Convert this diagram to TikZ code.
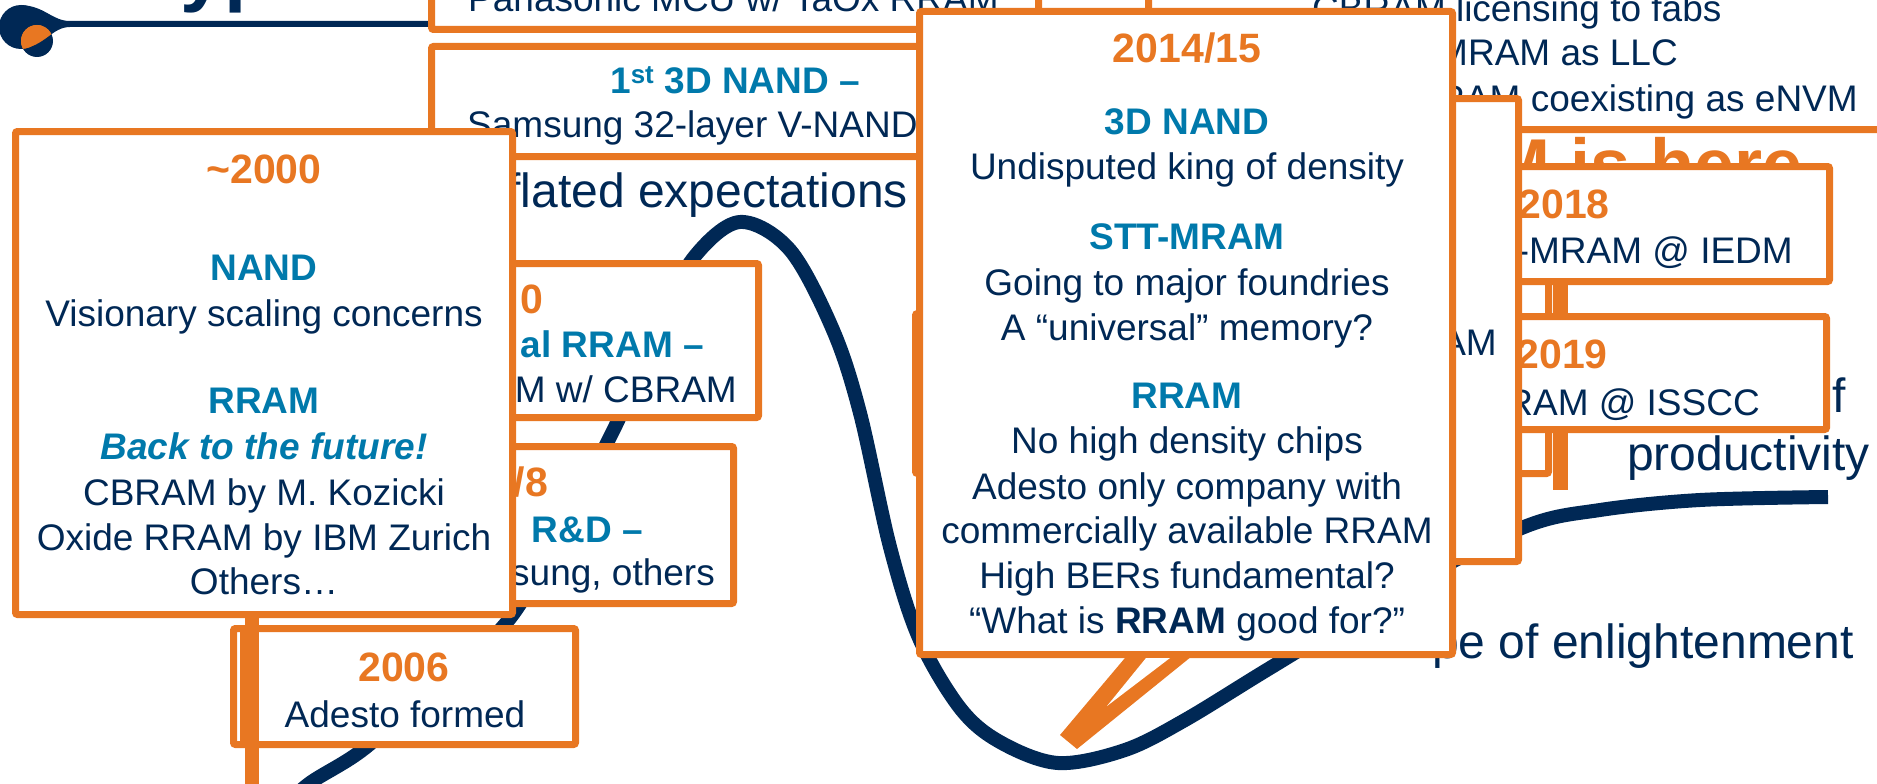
\documentclass[tikz,border=0pt]{standalone}
\usepackage{fontspec}
\setmainfont{Liberation Sans}
\definecolor{orng}{RGB}{232,119,34}
\definecolor{navy}{RGB}{0,40,85}
\definecolor{hblue}{RGB}{0,121,171}
\begin{document}
\begin{tikzpicture}[x=1pt,y=-1pt,
  box/.style={draw=orng,line width=7pt,fill=white,rounded corners=2pt},
  txt/.style={inner sep=0pt,text=navy,font=\fontsize{37}{44}\selectfont},
  yr/.style={inner sep=0pt,text=orng,font=\fontsize{41}{48}\selectfont\bfseries},
  hd/.style={inner sep=0pt,text=hblue,font=\fontsize{37}{44}\selectfont\bfseries},
  big/.style={inner sep=0pt,text=navy,font=\fontsize{48}{56}\selectfont},
  hype/.style={draw=navy,line width=14pt},
  bar/.style={fill=orng}]
\useasboundingbox (0,0) rectangle (1877,784);
\clip (0,0) rectangle (1877,784);

% background slide labels
\node[big,anchor=base east] (lpeak) at (908,207) {flated expectations};
\node[big,anchor=base east] (lplat1) at (1846,412) {f};
\node[big,anchor=base east] (lplat2) at (1870,470) {productivity};
\node[big,anchor=base east] (lslope) at (1854,658) {pe of enlightenment};
\node[inner sep=0pt,text=orng,font=\fontsize{72}{80}\selectfont\bfseries,anchor=base east] (here) at (1803,189) {M is here};
\node[inner sep=0pt,text=navy,font=\fontsize{80}{90}\selectfont\bfseries,anchor=base west] (title) at (180,-3) {yp};

% logo
\fill[navy] (21,27) circle (22);
\fill[navy] (21,5) .. controls (45,6) and (52,21) .. (70,21) -- (430,21) -- (430,27) -- (70,27) .. controls (52,27) and (45,46) .. (21,49) -- cycle;
\fill[navy] (37,41) circle (16);
\begin{scope}
  \clip (37,41) circle (16);
  \fill[orng] (21,27) circle (22);
  \fill[orng] (21,5) .. controls (45,6) and (52,21) .. (70,21) -- (70,27) .. controls (52,27) and (45,46) .. (21,49) -- cycle;
\end{scope}

% hype curve
\draw[hype] plot[smooth,tension=0.55] coordinates {(280,810) (310,783) (365,748) (440,680) (516,610) (613,431) (660,320) (695,256) (740,222) (790,250) (833,330) (860,413) (890,547) (919,638) (960,708) (1000,742) (1058,763) (1125,750) (1185,720) (1270,668) (1400,590) (1524,527) (1600,510) (1700,500) (1828,497)};

% top boxes
\draw[box] (431.5,-56.5) rectangle (1038.5,29.5);
\node[txt,anchor=base west] (pan) at (468,12) {Panasonic MCU w/ TaOx RRAM};
\draw[box] (1148.5,-56.5) rectangle (1916.5,129.5);
\node[txt,anchor=base west] (tr1) at (1312,22) {CBRAM licensing to fabs};
\node[txt,anchor=base west] (tr2) at (1437,66) {MRAM as LLC};
\node[txt,anchor=base east] (tr3) at (1858,111) {RAM coexisting as eNVM};
\draw[box] (431.5,46.5) rectangle (1038.5,156.5);
\node[hd,anchor=base west] (n3a) at (610,93) {1\textsuperscript{st} 3D NAND –};
\node[txt,anchor=base west] (n3b) at (467,137) {Samsung 32-layer V-NAND};

% boxes behind ~2000
\draw[box] (303.5,263.5) rectangle (758.5,417.5);
\node[yr,anchor=base east] (alr1) at (543,313) {0};
\node[hd,anchor=base east] (alr2) at (704,357) {al RRAM –};
\node[txt,anchor=base east] (alr3) at (737,402) {M w/ CBRAM};
\draw[box] (303.5,446.5) rectangle (733.5,603.5);
\node[yr,anchor=base east] (rnd1) at (548,496) {/8};
\node[hd,anchor=base east] (rnd2) at (643,542) {R\&D –};
\node[txt,anchor=base east] (rnd3) at (715,585) {sung, others};

% ~2000 box
\draw[box] (15.5,131.5) rectangle (512.5,614.5);
\node[yr,anchor=base] (y2000) at (264,183) {\textasciitilde2000};
\node[hd,anchor=base] (a1) at (264,280) {NAND};
\node[txt,anchor=base] (a2) at (264,326) {Visionary scaling concerns};
\node[hd,anchor=base] (a3) at (264,413) {RRAM};
\node[hd,anchor=base,font=\fontsize{37}{44}\selectfont\bfseries\itshape] (a4) at (264,459) {Back to the future!};
\node[txt,anchor=base] (a5) at (264,505) {CBRAM by M. Kozicki};
\node[txt,anchor=base] (a6) at (264,550) {Oxide RRAM by IBM Zurich};
\node[txt,anchor=base] (a7) at (264,594) {Others…};

% 2006 box
\draw[box] (233.5,628.5) rectangle (575.5,744.5);
\draw[orng,line width=5pt] (242,632) -- (242,742);
\fill[orng] (245,616) rectangle (259,790);
\node[yr,anchor=base] (y2006) at (404,681) {2006};
\node[txt,anchor=base] (b1) at (405,727) {Adesto formed};

% right side boxes
\draw[box] (1403.5,253.5) rectangle (1548.5,473.5);
\fill[orng] (1553,280) rectangle (1568,490);
\draw[box] (1403.5,166.5) rectangle (1829.5,281.5);
\node[yr,anchor=base east] (y2018) at (1610,218) {2018};
\node[txt,anchor=base east] (c1) at (1793,263) {-MRAM @ IEDM};
\draw[box] (1403.5,316.5) rectangle (1826.5,429.5);
\node[yr,anchor=base east] (y2019) at (1608,368) {2019};
\node[txt,anchor=base east] (d1) at (1760,415) {RAM @ ISSCC};
\draw[box] (1103.5,98.5) rectangle (1518.5,561.5);
\node[txt,anchor=base east] (am) at (1497,355) {AM};
\draw[box] (915.5,313.5) rectangle (996.5,473.5);

% 2014/15 box
\draw[box] (919.5,11.5) rectangle (1452.5,654.5);
\fill[orng] (1130,652) -- (1060,735) -- (1077,749) -- (1197,652) -- cycle;
\fill[white] (1146,658) -- (1107,706) -- (1170,658) -- cycle;
\node[yr,anchor=base] (y1415) at (1187,63) {2014/15};
\node[hd,anchor=base] (e1) at (1187,134) {3D NAND};
\node[txt,anchor=base] (e2) at (1187,179) {Undisputed king of density};
\node[hd,anchor=base] (e3) at (1187,249) {STT-MRAM};
\node[txt,anchor=base] (e4) at (1187,295) {Going to major foundries};
\node[txt,anchor=base] (e5) at (1187,340) {A “universal” memory?};
\node[hd,anchor=base] (e6) at (1187,408) {RRAM};
\node[txt,anchor=base] (e7) at (1187,453) {No high density chips};
\node[txt,anchor=base] (e8) at (1187,499) {Adesto only company with};
\node[txt,anchor=base] (e9) at (1187,543) {commercially available RRAM};
\node[txt,anchor=base] (e10) at (1187,588) {High BERs fundamental?};
\node[txt,anchor=base] (e11) at (1187,633) {“What is \textbf{RRAM} good for?”};
\end{tikzpicture}
\end{document}
